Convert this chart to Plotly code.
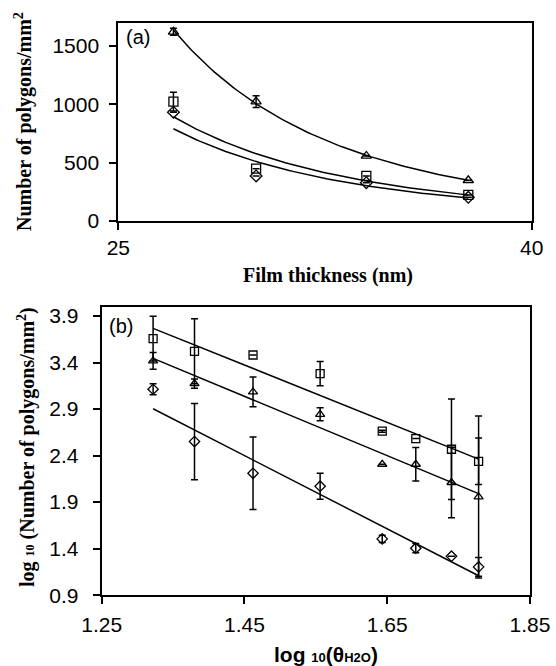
import numpy as np
import plotly.graph_objects as go

# ---------------- Panel (a) data ----------------
thickness = [27, 30, 34, 37.7]
tri_a = [1620, 1023, 557, 349]
tri_a_err = [30, 50, 0, 0]
sq_a = [1023, 448, 386, 223]
sq_a_err = [80, 0, 0, 0]
dia_a = [932, 386, 328, 203]
dia_a_err = [0, 0, 0, 0]

# ---------------- Panel (b) data ----------------
log_theta = [1.322, 1.380, 1.462, 1.556, 1.643, 1.690, 1.740, 1.778]
sq_b = [3.657, 3.521, 3.481, 3.281, 2.662, 2.583, 2.468, 2.339]
sq_b_err = [0.24, 0.35, 0.0, 0.13, 0.01, 0.0, 0.54, 0.25]
tri_b = [3.417, 3.174, 3.084, 2.844, 2.307, 2.307, 2.111, 1.956]
tri_b_err = [0.09, 0.05, 0.16, 0.07, 0.0, 0.18, 0.38, 0.87]
dia_b = [3.113, 2.551, 2.210, 2.071, 1.505, 1.405, 1.319, 1.204]
dia_b_err = [0.06, 0.41, 0.39, 0.14, 0.04, 0.05, 0.0, 0.10]

a_xticks = [25, 40]
b_xticks = [1.25, 1.45, 1.65, 1.85]
a_yticks = [0, 500, 1000, 1500]
b_yticks = [0.9, 1.4, 1.9, 2.4, 2.9, 3.4, 3.9]

W, H = 556, 666
def px(x):
    return x / W
def py(y):
    return 1 - y / H

fig = go.Figure()

def power_fit(xs, ys):
    lx, ly = np.log(xs), np.log(ys)
    b, a = np.polyfit(lx, ly, 1)
    xx = np.linspace(min(xs), max(xs), 80)
    return xx, np.exp(a) * xx ** b

def lin_fit(xs, ys):
    m, c = np.polyfit(xs, ys, 1)
    xx = np.array([min(xs), max(xs)])
    return xx, m * xx + c

line_style = dict(color="black", width=1.5)

# Panel (a) trendlines (power fits of the data)
for ys in (tri_a, sq_a, dia_a):
    xx, yy = power_fit(np.array(thickness, float), np.array(ys, float))
    fig.add_trace(go.Scatter(x=xx, y=yy, mode="lines", line=line_style,
                             xaxis="x", yaxis="y", showlegend=False, hoverinfo="skip"))

def markers(xs, ys, errs, symbol, size, xa, ya):
    fig.add_trace(go.Scatter(
        x=xs, y=ys, mode="markers", xaxis=xa, yaxis=ya, showlegend=False,
        marker=dict(symbol=symbol, size=size, color="black", line=dict(color="black", width=1.3)),
        error_y=dict(type="data", array=errs, visible=True, color="black", thickness=1.5, width=3.5),
    ))

markers(thickness, tri_a, tri_a_err, "triangle-up-open", 9, "x", "y")
markers(thickness, sq_a, sq_a_err, "square-open", 9, "x", "y")
markers(thickness, dia_a, dia_a_err, "diamond-open", 9, "x", "y")

# Panel (b) trendlines (linear fits of the data)
for ys in (sq_b, tri_b, dia_b):
    xx, yy = lin_fit(np.array(log_theta, float), np.array(ys, float))
    fig.add_trace(go.Scatter(x=xx, y=yy, mode="lines", line=line_style,
                             xaxis="x2", yaxis="y2", showlegend=False, hoverinfo="skip"))

markers(log_theta, sq_b, sq_b_err, "square-open", 8, "x2", "y2")
markers(log_theta, tri_b, tri_b_err, "triangle-up-open", 8, "x2", "y2")
markers(log_theta, dia_b, dia_b_err, "diamond-open", 8, "x2", "y2")

tickfont = dict(family="Liberation Sans, Arial, sans-serif", size=21, color="black")
axis_common = dict(showline=True, linecolor="black", linewidth=2, mirror=True,
                   ticks="outside", ticklen=7, tickwidth=1.5, tickcolor="black",
                   showgrid=False, zeroline=False, tickfont=tickfont, fixedrange=True,
                   automargin=False)

fig.update_layout(
    template="none",
    width=W, height=H,
    margin=dict(l=0, r=0, t=0, b=0, pad=0, autoexpand=False),
    paper_bgcolor="white", plot_bgcolor="white",
    xaxis=dict(axis_common, domain=[px(118.3), px(531.7)], range=[25, 40],
               tickvals=a_xticks, ticktext=[str(v) for v in a_xticks], anchor="y",
               ticklabelstandoff=0),
    yaxis=dict(axis_common, domain=[py(221), py(22.5)], range=[0, 1700],
               tickvals=a_yticks, anchor="x", ticklabelstandoff=6),
    xaxis2=dict(axis_common, domain=[px(101.7), px(530)], range=[1.25, 1.85],
                tickvals=b_xticks, ticktext=["%.2f" % v for v in b_xticks], anchor="y2",
                ticklabelstandoff=3),
    yaxis2=dict(axis_common, domain=[py(595.2), py(306.7)], range=[0.9, 4.0],
                tickvals=b_yticks, ticktext=["%.1f" % v for v in b_yticks], anchor="x2",
                ticklabelstandoff=10),
)

serif_bold = dict(family="Liberation Serif, Times New Roman, serif", size=20, color="black")
sans_bold = dict(family="Liberation Sans, Arial, sans-serif", size=21, color="black")
sans = dict(family="Liberation Sans, Arial, sans-serif", size=20, color="black")

ann = [
    dict(x=px(327.7), y=py(275), text="<b>Film thickness (nm)</b>", font=serif_bold),
    dict(x=px(24), y=py(122), text="<b>Number of polygons/mm<sup>2</sup></b>",
         font=serif_bold, textangle=-90),
    dict(x=px(26), y=py(447), text="<b>log <span style='font-size:12px'>10</span> (Number of polygons/mm<sup>2</sup>)</b>",
         font=serif_bold, textangle=-90),
    dict(x=px(326), y=py(654),
         text="<b>log <span style='font-size:13px'>10</span>(θ<span style='font-size:13px'>H2O</span>)</b>",
         font=sans_bold),
    dict(x=px(138), y=py(37.5), text="(a)", font=sans),
    dict(x=px(120.5), y=py(326), text="(b)", font=sans),
]
for a in ann:
    a.update(xref="paper", yref="paper", showarrow=False, xanchor="center", yanchor="middle")
fig.update_layout(annotations=ann)

fig.write_html("out.html", config={"displayModeBar": False},
               post_script="document.body.style.margin='0';document.body.style.overflow='hidden';")
